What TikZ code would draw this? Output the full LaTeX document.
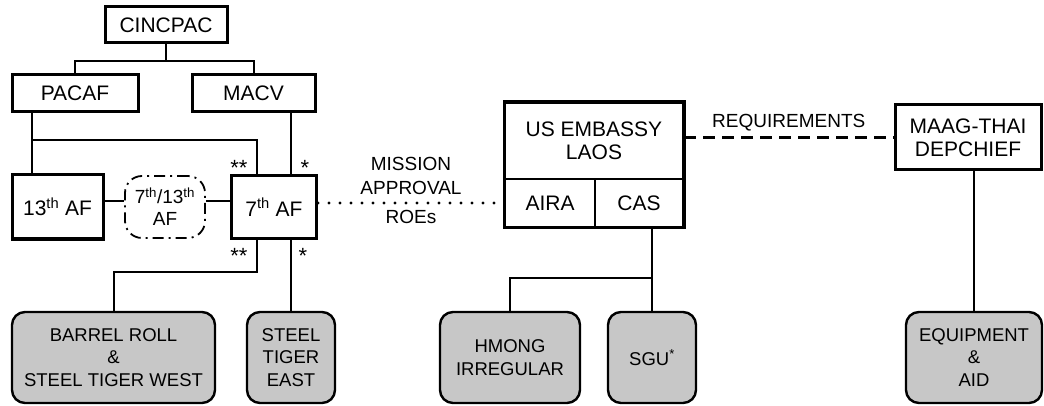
\documentclass[tikz,border=0pt]{standalone}
\usepackage{fontspec}
\setmainfont{Liberation Sans}
\begin{document}
\begin{tikzpicture}[x=1pt,y=-1pt,
    box/.style={draw,line width=3pt,inner sep=0pt,align=center,font=\fontsize{21}{23}\selectfont},
    unit/.style={draw,line width=2.4pt,rounded corners=13pt,fill=black!22,inner sep=0pt,align=center,font=\fontsize{18.5}{22.5}\selectfont},
    link/.style={line width=2pt},
    lbl/.style={font=\fontsize{19}{24}\selectfont,align=center}]
    \useasboundingbox (0,0) rectangle (1044,406);

    \node[box,minimum width=122pt,minimum height=36pt](0)at(166,25) {CINCPAC};
    \node[box,minimum width=126pt,minimum height=37pt](1)at(75,93.5) {PACAF};
    \node[box,minimum width=123pt,minimum height=37pt](2)at(253.5,93.5) {MACV};
    \node[box,minimum width=91pt,minimum height=64pt](3)at(57.5,207) {13\textsuperscript{th} AF};
    \node[draw,line width=1.8pt,dash pattern=on 11pt off 5pt on 2pt off 5pt,rounded corners=17pt,
        minimum width=80pt,minimum height=62pt,inner sep=0pt,align=center,
        font=\fontsize{19}{22}\selectfont](4)at(165,207) {7\textsuperscript{th}/13\textsuperscript{th}\\AF};
    \node[box,minimum width=85pt,minimum height=63pt](5)at(274,207) {7\textsuperscript{th} AF};
    \node[unit,minimum width=203pt,minimum height=91pt](6)at(113.5,357.5) {BARREL ROLL\\\&\\STEEL TIGER WEST};
    \node[unit,minimum width=88pt,minimum height=91pt](7)at(291,357.5) {STEEL\\TIGER\\EAST};

    \node[box,line width=2pt,minimum width=178pt,minimum height=76pt](8)at(594,141) {US EMBASSY\\LAOS};
    \node[box,line width=2pt,minimum width=90pt,minimum height=48pt](9)at(550,203) {AIRA};
    \node[box,line width=2pt,minimum width=88pt,minimum height=48pt](10)at(639,203) {CAS};
    \draw[line width=3pt] (8.north west) rectangle (10.south east);
    \node[box,minimum width=146pt,minimum height=65pt](11)at(968,137.5) {MAAG-THAI\\DEPCHIEF};
    \node[unit,minimum width=140pt,minimum height=91pt](12)at(510,357.5) {HMONG\\IRREGULAR};
    \node[unit,minimum width=88pt,minimum height=91pt](13)at(652,357.5) {SGU\textsuperscript{*}};
    \node[unit,minimum width=136pt,minimum height=91pt](14)at(974,357.5) {EQUIPMENT\\\&\\AID};

    \coordinate (b)at(33,140);
    \draw[link](0.south) -- ++(0,17) -| (1.north);
    \draw[link](0.south) -- ++(0,17) -| (2.north);
    \draw[link]([xshift=21pt]1.south west) -- ([xshift=21pt]3.north west);
    \draw[link]([xshift=-17pt]5.north) |- (b);
    \draw[link]([xshift=37.5pt]2.south) -- ([xshift=17pt]5.north);
    \draw[link]([yshift=6pt]3.east) -- ([yshift=6pt]4.west);
    \draw[link]([yshift=6pt]4.east) -- ([yshift=6pt]5.west);
    \draw[link](6.north) -- ++(0,-39) -| ([xshift=-17pt]5.south);
    \draw[link]([xshift=17pt]5.south) -- (7.north);
    \draw[link](12.north) -- ++(0,-33) -| ([xshift=13pt]10.south);
    \draw[link]([xshift=13pt]10.south) -- (13.north);
    \draw[link]([xshift=6pt]11.south) -- (14.north);

    \draw[line width=3.2pt,line cap=round,dash pattern=on 0pt off 11pt](9.west -| 5.east) --node[lbl,above=3pt]{MISSION\\APPROVAL} node[lbl,below=2pt]{ROEs} (9.west);
    \draw[line width=2.4pt,dash pattern=on 12pt off 7pt](11.west -| 8.east) --node[lbl,above=2pt]{REQUIREMENTS} (11.west);

    \node[lbl,font=\fontsize{22}{24}\selectfont](s1)at(239,168) {**};
    \node[lbl,font=\fontsize{22}{24}\selectfont](s2)at(305,168) {*};
    \node[lbl,font=\fontsize{22}{24}\selectfont](s3)at(239,256) {**};
    \node[lbl,font=\fontsize{22}{24}\selectfont](s4)at(303,256) {*};
\end{tikzpicture}
\end{document}
